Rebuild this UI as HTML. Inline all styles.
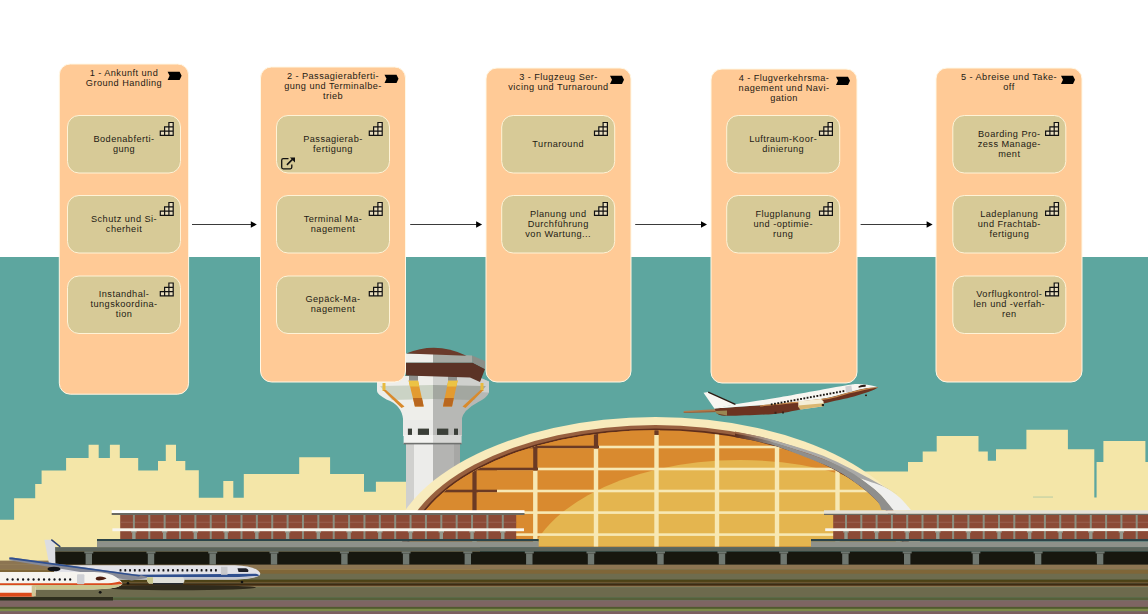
<!DOCTYPE html>
<html><head><meta charset="utf-8"><style>
html,body{margin:0;padding:0;background:#fff;width:1148px;height:614px;overflow:hidden}
svg{display:block}
.t{font-family:"Liberation Sans",sans-serif;font-size:9.2px;letter-spacing:0.45px;fill:#1e1a14;text-anchor:middle}
</style></head><body>
<svg width="1148" height="614" viewBox="0 0 1148 614">
<rect x="0" y="257" width="1148" height="357" fill="#5da69f"/>
<polygon points="0,519.7 14.1,519.7 14.1,498.2 35.2,498.2 35.2,484.1 41.6,484.1 41.6,470.4 66.1,470.4 66.1,458.1 88.6,458.1 88.6,444.8 98.7,444.8 98.7,458.1 109.9,458.1 109.9,444.8 119.8,444.8 119.8,458.1 138.2,458.1 138.2,470.4 158,470.4 158,461 165.8,461 165.8,444.8 176,444.8 176,461 185.3,461 185.3,470.3 198.8,470.3 198.8,497.8 223.3,497.8 223.3,481 233.3,481 233.3,497.8 243.8,497.8 243.8,474 299.2,474 299.2,457.2 330.1,457.2 330.1,474 364,474 364,491.7 375.9,491.7 375.9,481.7 480,481.7 480,570 0,570" fill="#f4e6a8" />
<polygon points="840,471.4 908,471.4 908,462 922.7,462 922.7,451.5 936.7,451.5 936.7,435.9 978.5,435.9 978.5,451.5 987.8,451.5 987.8,460.8 996,460.8 996,449.2 1026.4,449.2 1026.4,429.8 1067.9,429.8 1067.9,449.2 1094.3,449.2 1094.3,497.5 1096.6,497.5 1096.6,462 1103.4,462 1103.4,441 1145.4,441 1145.4,462 1148,462 1148,540 840,540" fill="#f4e6a8" />
<rect x="1033" y="496.6" width="20" height="0.9" fill="#5da69f" opacity="0.45"/>
<rect x="406" y="440" width="8" height="75" fill="#d0d0ce" />
<rect x="414" y="440" width="19" height="75" fill="#ececea" />
<rect x="433" y="440" width="21" height="75" fill="#b4b4b2" />
<rect x="454" y="440" width="6" height="75" fill="#a7a7a5" />
<rect x="403" y="418" width="30" height="18" fill="#eaeae8" />
<rect x="433" y="418" width="29" height="18" fill="#b9b9b7" />
<rect x="407.9" y="428.6" width="4.100000000000023" height="6.3" fill="#3b3f39" />
<rect x="417.9" y="428.6" width="11.100000000000023" height="6.3" fill="#3b3f39" />
<rect x="437" y="428.6" width="11.300000000000011" height="6.3" fill="#3b3f39" />
<rect x="454" y="428.6" width="4" height="6.3" fill="#3b3f39" />
<rect x="403.6" y="435" width="29.4" height="8.8" fill="#f3f3f1" />
<rect x="433" y="435" width="28.6" height="8.8" fill="#d6d6d4" />
<rect x="403.6" y="442.8" width="58" height="1.6" fill="#707270" />
<path d="M377 381.5 L390 376 L433 376 L433 420 L403.2 420 Q402 405 386.5 399.5 Q377 394 377 391 Z" fill="#eeeeea"/>
<path d="M433 376 L476 376 L489 381.5 L489 392.6 Q487 398 477.9 402.2 Q463 410 461.3 420 L433 420 Z" fill="#b7b8b5"/>
<path d="M433 376 L476 376 L489 381.5 L489 392.6 L433 390 Z" fill="#cfd0cd"/>
<polygon points="380,386 433,385 433,399 392,400" fill="#cbd3c5" />
<polygon points="433,385 486,386 474,400 433,399" fill="#a3a7a0" />
<polygon points="408.6,380.5 418,380.5 423.7,406.6 414.9,406.6" fill="#e39b30" />
<polygon points="408.6,380.5 418,380.5 419.3,386.5 409.9,386.5" fill="#ecc344" />
<polygon points="413,398 422,398 423.7,406.6 414.9,406.6" fill="#b9671f" />
<polygon points="448.3,380.5 457.7,380.5 452,406.6 443,406.6" fill="#e39b30" />
<polygon points="448.3,380.5 457.7,380.5 456.4,386.5 447,386.5" fill="#ecc344" />
<polygon points="444.7,398 453.8,398 452,406.6 443,406.6" fill="#b9671f" />
<rect x="382.5" y="383" width="3" height="8" fill="#e8bb40" />
<polygon points="383,390 386,390 404.5,406.5 401.5,408" fill="#d98a2c" />
<rect x="480.5" y="383" width="3" height="8" fill="#e8bb40" />
<polygon points="480.5,390 483.5,390 465.5,408 462.5,406.5" fill="#d98a2c" />
<rect x="409" y="375.5" width="9" height="5" fill="#8e908c" />
<rect x="448" y="375.5" width="9" height="5" fill="#8e908c" />
<polygon points="406,362.5 472.5,362.5 485,369 480,382 470,377.5 406,375.5" fill="#5b3326" />
<polygon points="406,353.5 433,353.5 433,362.5 406,362.5" fill="#efefeb" />
<polygon points="433,353.5 472,355.5 472.5,362.5 433,362.5" fill="#a6aaa4" />
<polygon points="472,355.5 485,361 485,369 472.5,362.5" fill="#8b8f89" />
<path d="M406.3 353.6 Q436 341 466.5 355.8 Z" fill="#6b3b2b"/>
<clipPath id="dclip"><rect x="380" y="400" width="560" height="146.5"/></clipPath>
<g clip-path="url(#dclip)">
<path d="M388.7 560 A266.8 143 0 0 1 922.3 560 Z" fill="#f8ebbc"/>
<path d="M399.7 560 A255.8 135 0 0 1 911.3 560 Z" fill="#98603f"/>
<path d="M405.0 560 A250.5 131.6 0 0 1 906.0 560 Z" fill="#5e2e1c"/>
<clipPath id="dint"><path d="M406.8 560 A248.7 129.8 0 0 1 904.2 560 Z"/></clipPath>
<g clip-path="url(#dint)">
<rect x="380" y="400" width="560" height="160" fill="#d98a2f" />
<ellipse cx="740" cy="580" rx="215" ry="120" fill="#e4b54f"/>
<rect x="472.3" y="400" width="4.4" height="160" fill="#f7e8b4" />
<rect x="533.0999999999999" y="400" width="4.4" height="160" fill="#f7e8b4" />
<rect x="593.8" y="400" width="4.4" height="160" fill="#f7e8b4" />
<rect x="654.3" y="400" width="4.4" height="160" fill="#f7e8b4" />
<rect x="714.8" y="400" width="4.4" height="160" fill="#f7e8b4" />
<rect x="774.8" y="400" width="4.4" height="160" fill="#f7e8b4" />
<rect x="835.3" y="400" width="4.4" height="160" fill="#f7e8b4" />
<rect x="895.8" y="400" width="4.4" height="160" fill="#f7e8b4" />
<rect x="380" y="445.7" width="560" height="2.6" fill="#f7e8b4" />
<rect x="380" y="467.7" width="560" height="2.6" fill="#f7e8b4" />
<rect x="380" y="489.7" width="560" height="2.6" fill="#f7e8b4" />
<rect x="380" y="511.3" width="560" height="2.6" fill="#f7e8b4" />
<rect x="380" y="533.3000000000001" width="560" height="2.6" fill="#f7e8b4" />
<clipPath id="dk"><polygon points="380,400 660,400 660,435 599,435 599,448.5 538,448.5 538,470.5 497,470.5 497,492.5 478,492.5 478,520 380,520"/></clipPath>
<g clip-path="url(#dk)">
<rect x="380" y="400" width="280" height="120" fill="#d98a2f" />
<rect x="472.4" y="400" width="4.2" height="160" fill="#6b3a24" />
<rect x="533.1999999999999" y="400" width="4.2" height="160" fill="#6b3a24" />
<rect x="593.9" y="400" width="4.2" height="160" fill="#6b3a24" />
<rect x="654.4" y="400" width="4.2" height="160" fill="#6b3a24" />
<rect x="380" y="445.7" width="280" height="2.6" fill="#6b3a24" />
<rect x="380" y="467.7" width="280" height="2.6" fill="#6b3a24" />
<rect x="380" y="489.7" width="280" height="2.6" fill="#6b3a24" />
</g>
</g>
<linearGradient id="gLG" x1="735" y1="0" x2="775" y2="0" gradientUnits="userSpaceOnUse"><stop offset="0" stop-color="#98603f"/><stop offset="1" stop-color="#a9a9a7"/></linearGradient>
<linearGradient id="gDG" x1="735" y1="0" x2="775" y2="0" gradientUnits="userSpaceOnUse"><stop offset="0" stop-color="#5e2e1c"/><stop offset="1" stop-color="#8f8f8d"/></linearGradient>
<path d="M735.00 431.40 C739.17 432.27 752.50 434.82 760.00 436.60 C767.50 438.38 772.50 439.93 780.00 442.10 C787.50 444.27 796.67 446.83 805.00 449.60 C813.33 452.37 820.50 454.55 830.00 458.70 C839.50 462.85 850.50 468.45 862.00 474.50 C873.50 480.55 892.83 491.58 899.00 495.00 L884.00 487.00 C880.10 485.58 869.60 482.67 860.60 478.50 C851.60 474.33 839.27 466.32 830.00 462.00 C820.73 457.68 813.33 455.47 805.00 452.60 C796.67 449.73 787.50 447.03 780.00 444.80 C772.50 442.57 767.50 441.03 760.00 439.20 C752.50 437.37 739.17 434.70 735.00 433.80 Z" fill="url(#gLG)"/>
<path d="M735.00 433.50 C739.17 434.38 752.50 436.97 760.00 438.80 C767.50 440.63 768.33 440.67 780.00 444.50 C791.67 448.33 816.57 456.13 830.00 461.80 C843.43 467.47 852.27 473.13 860.60 478.50 C868.93 483.87 874.43 488.75 880.00 494.00 C885.57 499.25 891.67 507.33 894.00 510.00 L881.50 510.00 C880.67 508.42 880.50 504.78 876.50 500.50 C872.50 496.22 865.25 489.83 857.50 484.30 C849.75 478.77 842.92 473.43 830.00 467.30 C817.08 461.17 791.67 451.72 780.00 447.50 C768.33 443.28 767.50 443.75 760.00 442.00 C752.50 440.25 739.17 437.83 735.00 437.00 Z" fill="url(#gDG)"/>
<path d="M860.60 478.50 C864.50 479.92 877.60 483.92 884.00 487.00 C890.40 490.08 894.50 493.17 899.00 497.00 C903.50 500.83 909.00 507.83 911.00 510.00 L893.50 510.00 C891.08 507.17 884.48 498.25 879.00 493.00 C873.52 487.75 863.67 480.92 860.60 478.50 Z" fill="#efefed"/>
</g>
<rect x="111.7" y="510.2" width="412.8" height="2.8" fill="#ffffff" />
<rect x="111.7" y="513" width="412.8" height="2" fill="#6a6a62" />
<rect x="120.2" y="515" width="396" height="24" fill="#8b4a36" />
<rect x="120.2" y="521.8" width="396" height="0.8" fill="#9c6655" />
<rect x="132.9" y="515" width="2" height="24" fill="#8c8f80" />
<rect x="131.20000000000002" y="531" width="5.4" height="1.6" fill="#9da396" />
<rect x="132.20000000000002" y="532.6" width="3.4" height="6.4" fill="#939a8e" />
<rect x="148.27" y="515" width="2" height="24" fill="#8c8f80" />
<rect x="163.64000000000001" y="515" width="2" height="24" fill="#8c8f80" />
<rect x="161.94000000000003" y="531" width="5.4" height="1.6" fill="#9da396" />
<rect x="162.94000000000003" y="532.6" width="3.4" height="6.4" fill="#939a8e" />
<rect x="179.01000000000002" y="515" width="2" height="24" fill="#8c8f80" />
<rect x="194.38000000000002" y="515" width="2" height="24" fill="#8c8f80" />
<rect x="192.68000000000004" y="531" width="5.4" height="1.6" fill="#9da396" />
<rect x="193.68000000000004" y="532.6" width="3.4" height="6.4" fill="#939a8e" />
<rect x="209.75000000000003" y="515" width="2" height="24" fill="#8c8f80" />
<rect x="225.12000000000003" y="515" width="2" height="24" fill="#8c8f80" />
<rect x="223.42000000000004" y="531" width="5.4" height="1.6" fill="#9da396" />
<rect x="224.42000000000004" y="532.6" width="3.4" height="6.4" fill="#939a8e" />
<rect x="240.49000000000004" y="515" width="2" height="24" fill="#8c8f80" />
<rect x="255.86" y="515" width="2" height="24" fill="#8c8f80" />
<rect x="254.16000000000003" y="531" width="5.4" height="1.6" fill="#9da396" />
<rect x="255.16000000000003" y="532.6" width="3.4" height="6.4" fill="#939a8e" />
<rect x="271.23" y="515" width="2" height="24" fill="#8c8f80" />
<rect x="286.6" y="515" width="2" height="24" fill="#8c8f80" />
<rect x="284.90000000000003" y="531" width="5.4" height="1.6" fill="#9da396" />
<rect x="285.90000000000003" y="532.6" width="3.4" height="6.4" fill="#939a8e" />
<rect x="301.97" y="515" width="2" height="24" fill="#8c8f80" />
<rect x="317.34000000000003" y="515" width="2" height="24" fill="#8c8f80" />
<rect x="315.64000000000004" y="531" width="5.4" height="1.6" fill="#9da396" />
<rect x="316.64000000000004" y="532.6" width="3.4" height="6.4" fill="#939a8e" />
<rect x="332.71000000000004" y="515" width="2" height="24" fill="#8c8f80" />
<rect x="348.08000000000004" y="515" width="2" height="24" fill="#8c8f80" />
<rect x="346.38000000000005" y="531" width="5.4" height="1.6" fill="#9da396" />
<rect x="347.38000000000005" y="532.6" width="3.4" height="6.4" fill="#939a8e" />
<rect x="363.45000000000005" y="515" width="2" height="24" fill="#8c8f80" />
<rect x="378.82000000000005" y="515" width="2" height="24" fill="#8c8f80" />
<rect x="377.12000000000006" y="531" width="5.4" height="1.6" fill="#9da396" />
<rect x="378.12000000000006" y="532.6" width="3.4" height="6.4" fill="#939a8e" />
<rect x="394.19000000000005" y="515" width="2" height="24" fill="#8c8f80" />
<rect x="409.56000000000006" y="515" width="2" height="24" fill="#8c8f80" />
<rect x="407.86000000000007" y="531" width="5.4" height="1.6" fill="#9da396" />
<rect x="408.86000000000007" y="532.6" width="3.4" height="6.4" fill="#939a8e" />
<rect x="424.93000000000006" y="515" width="2" height="24" fill="#8c8f80" />
<rect x="440.30000000000007" y="515" width="2" height="24" fill="#8c8f80" />
<rect x="438.6000000000001" y="531" width="5.4" height="1.6" fill="#9da396" />
<rect x="439.6000000000001" y="532.6" width="3.4" height="6.4" fill="#939a8e" />
<rect x="455.6700000000001" y="515" width="2" height="24" fill="#8c8f80" />
<rect x="471.0400000000001" y="515" width="2" height="24" fill="#8c8f80" />
<rect x="469.3400000000001" y="531" width="5.4" height="1.6" fill="#9da396" />
<rect x="470.3400000000001" y="532.6" width="3.4" height="6.4" fill="#939a8e" />
<rect x="486.4100000000001" y="515" width="2" height="24" fill="#8c8f80" />
<rect x="501.7800000000001" y="515" width="2" height="24" fill="#8c8f80" />
<rect x="500.0800000000001" y="531" width="5.4" height="1.6" fill="#9da396" />
<rect x="501.0800000000001" y="532.6" width="3.4" height="6.4" fill="#939a8e" />
<rect x="112.4" y="528.3" width="411.6" height="2.9" fill="#f8f6ee" />
<rect x="97" y="539" width="441.7" height="2.5" fill="#2c4448" />
<rect x="97" y="541.5" width="441.7" height="5.6" fill="#8e918a" />
<rect x="824" y="510.3" width="324" height="3.5" fill="#e4e2da" />
<rect x="824" y="513.8" width="324" height="1.2" fill="#6a6a62" />
<rect x="833.2" y="515" width="315" height="24" fill="#8b4a36" />
<rect x="833.2" y="521.8" width="315" height="0.8" fill="#9c6655" />
<rect x="845" y="515" width="2" height="24" fill="#8c8f80" />
<rect x="843.3" y="531" width="5.4" height="1.6" fill="#9da396" />
<rect x="844.3" y="532.6" width="3.4" height="6.4" fill="#939a8e" />
<rect x="860.3" y="515" width="2" height="24" fill="#8c8f80" />
<rect x="875.5999999999999" y="515" width="2" height="24" fill="#8c8f80" />
<rect x="873.8999999999999" y="531" width="5.4" height="1.6" fill="#9da396" />
<rect x="874.8999999999999" y="532.6" width="3.4" height="6.4" fill="#939a8e" />
<rect x="890.8999999999999" y="515" width="2" height="24" fill="#8c8f80" />
<rect x="906.1999999999998" y="515" width="2" height="24" fill="#8c8f80" />
<rect x="904.4999999999998" y="531" width="5.4" height="1.6" fill="#9da396" />
<rect x="905.4999999999998" y="532.6" width="3.4" height="6.4" fill="#939a8e" />
<rect x="921.4999999999998" y="515" width="2" height="24" fill="#8c8f80" />
<rect x="936.7999999999997" y="515" width="2" height="24" fill="#8c8f80" />
<rect x="935.0999999999997" y="531" width="5.4" height="1.6" fill="#9da396" />
<rect x="936.0999999999997" y="532.6" width="3.4" height="6.4" fill="#939a8e" />
<rect x="952.0999999999997" y="515" width="2" height="24" fill="#8c8f80" />
<rect x="967.3999999999996" y="515" width="2" height="24" fill="#8c8f80" />
<rect x="965.6999999999996" y="531" width="5.4" height="1.6" fill="#9da396" />
<rect x="966.6999999999996" y="532.6" width="3.4" height="6.4" fill="#939a8e" />
<rect x="982.6999999999996" y="515" width="2" height="24" fill="#8c8f80" />
<rect x="997.9999999999995" y="515" width="2" height="24" fill="#8c8f80" />
<rect x="996.2999999999995" y="531" width="5.4" height="1.6" fill="#9da396" />
<rect x="997.2999999999995" y="532.6" width="3.4" height="6.4" fill="#939a8e" />
<rect x="1013.2999999999995" y="515" width="2" height="24" fill="#8c8f80" />
<rect x="1028.5999999999995" y="515" width="2" height="24" fill="#8c8f80" />
<rect x="1026.8999999999994" y="531" width="5.4" height="1.6" fill="#9da396" />
<rect x="1027.8999999999994" y="532.6" width="3.4" height="6.4" fill="#939a8e" />
<rect x="1043.8999999999994" y="515" width="2" height="24" fill="#8c8f80" />
<rect x="1059.1999999999994" y="515" width="2" height="24" fill="#8c8f80" />
<rect x="1057.4999999999993" y="531" width="5.4" height="1.6" fill="#9da396" />
<rect x="1058.4999999999993" y="532.6" width="3.4" height="6.4" fill="#939a8e" />
<rect x="1074.4999999999993" y="515" width="2" height="24" fill="#8c8f80" />
<rect x="1089.7999999999993" y="515" width="2" height="24" fill="#8c8f80" />
<rect x="1088.0999999999992" y="531" width="5.4" height="1.6" fill="#9da396" />
<rect x="1089.0999999999992" y="532.6" width="3.4" height="6.4" fill="#939a8e" />
<rect x="1105.0999999999992" y="515" width="2" height="24" fill="#8c8f80" />
<rect x="1120.3999999999992" y="515" width="2" height="24" fill="#8c8f80" />
<rect x="1118.6999999999991" y="531" width="5.4" height="1.6" fill="#9da396" />
<rect x="1119.6999999999991" y="532.6" width="3.4" height="6.4" fill="#939a8e" />
<rect x="1135.6999999999991" y="515" width="2" height="24" fill="#8c8f80" />
<rect x="825.2" y="528.3" width="322.8" height="2.8" fill="#f8f6ee" />
<rect x="811" y="539" width="337" height="2.5" fill="#2c4448" />
<rect x="811" y="541.5" width="337" height="5.6" fill="#8e918a" />
<rect x="0" y="560.6" width="1148" height="4.3" fill="#8c7552" />
<rect x="0" y="564.6" width="1148" height="5.099999999999954" fill="#8c7552" />
<rect x="0" y="569.4" width="1148" height="4.600000000000068" fill="#7f6638" />
<rect x="0" y="573.7" width="1148" height="6.099999999999954" fill="#6e6c4e" />
<rect x="0" y="579.5" width="1148" height="2.699999999999977" fill="#4c4216" />
<rect x="0" y="581.9" width="1148" height="1.6999999999999773" fill="#6a5530" />
<rect x="0" y="583.3" width="1148" height="2.7000000000000908" fill="#3f2a10" />
<rect x="0" y="585.7" width="1148" height="1.8" fill="#8a7550" />
<rect x="0" y="587.2" width="1148" height="10.39999999999991" fill="#6d6a4d" />
<rect x="0" y="597.3" width="1148" height="3.2000000000000908" fill="#56603a" />
<rect x="0" y="600.2" width="1148" height="6.999999999999932" fill="#7e6563" />
<rect x="0" y="606.9" width="1148" height="2.199999999999977" fill="#505a2e" />
<rect x="0" y="608.8" width="1148" height="2.7000000000000908" fill="#7e8c4a" />
<rect x="0" y="611.2" width="1148" height="3.0999999999999543" fill="#7c6060" />
<rect x="54.3" y="547.1" width="1093.7" height="4.3" fill="#5b635b" />
<rect x="54.3" y="551.4" width="1093.7" height="13.2" fill="#17170f" />
<rect x="84.3" y="551.4" width="9" height="2" fill="#6f7770" />
<rect x="85.6" y="553.4" width="6.4" height="11.2" fill="#6f7770" />
<rect x="146.5" y="551.4" width="9" height="2" fill="#6f7770" />
<rect x="147.8" y="553.4" width="6.4" height="11.2" fill="#6f7770" />
<rect x="208.2" y="551.4" width="9" height="2" fill="#6f7770" />
<rect x="209.5" y="553.4" width="6.4" height="11.2" fill="#6f7770" />
<rect x="269.5" y="551.4" width="9" height="2" fill="#6f7770" />
<rect x="270.8" y="553.4" width="6.4" height="11.2" fill="#6f7770" />
<rect x="339.9" y="551.4" width="9" height="2" fill="#6f7770" />
<rect x="341.2" y="553.4" width="6.4" height="11.2" fill="#6f7770" />
<rect x="401.6" y="551.4" width="9" height="2" fill="#6f7770" />
<rect x="402.90000000000003" y="553.4" width="6.4" height="11.2" fill="#6f7770" />
<rect x="463.3" y="551.4" width="9" height="2" fill="#6f7770" />
<rect x="464.6" y="553.4" width="6.4" height="11.2" fill="#6f7770" />
<rect x="524.8" y="551.4" width="9" height="2" fill="#6f7770" />
<rect x="526.0999999999999" y="553.4" width="6.4" height="11.2" fill="#6f7770" />
<rect x="586.5" y="551.4" width="9" height="2" fill="#6f7770" />
<rect x="587.8" y="553.4" width="6.4" height="11.2" fill="#6f7770" />
<rect x="656.0" y="551.4" width="9" height="2" fill="#6f7770" />
<rect x="657.3" y="553.4" width="6.4" height="11.2" fill="#6f7770" />
<rect x="717.5" y="551.4" width="9" height="2" fill="#6f7770" />
<rect x="718.8" y="553.4" width="6.4" height="11.2" fill="#6f7770" />
<rect x="779.2" y="551.4" width="9" height="2" fill="#6f7770" />
<rect x="780.5" y="553.4" width="6.4" height="11.2" fill="#6f7770" />
<rect x="840.9" y="551.4" width="9" height="2" fill="#6f7770" />
<rect x="842.1999999999999" y="553.4" width="6.4" height="11.2" fill="#6f7770" />
<rect x="902.7" y="551.4" width="9" height="2" fill="#6f7770" />
<rect x="904.0" y="553.4" width="6.4" height="11.2" fill="#6f7770" />
<rect x="971.4" y="551.4" width="9" height="2" fill="#6f7770" />
<rect x="972.6999999999999" y="553.4" width="6.4" height="11.2" fill="#6f7770" />
<rect x="1033.6" y="551.4" width="9" height="2" fill="#6f7770" />
<rect x="1034.8999999999999" y="553.4" width="6.4" height="11.2" fill="#6f7770" />
<rect x="1095.6" y="551.4" width="9" height="2" fill="#6f7770" />
<rect x="1096.8999999999999" y="553.4" width="6.4" height="11.2" fill="#6f7770" />
<polygon points="683.7,411.1 774,405.9 800,403.8 800,409 753,411.3 683.7,412.8" fill="#b27a4c" />
<polygon points="683.7,412.2 753,410 800,407 800,409 753,411.3 683.7,412.8" fill="#8e5430" />
<path d="M714.50 408.50 C725.42 407.70 761.82 405.37 780.00 403.70 C798.18 402.03 811.98 400.45 823.60 398.50 C835.22 396.55 842.47 393.73 849.70 392.00 C856.93 390.27 862.28 388.90 867.00 388.10 C871.72 387.30 876.17 387.35 878.00 387.20 L878.00 387.40 C876.92 387.97 875.50 389.30 871.50 390.80 C867.50 392.30 861.98 394.30 854.00 396.40 C846.02 398.50 832.60 401.20 823.60 403.40 C814.60 405.60 808.27 407.85 800.00 409.60 C791.73 411.35 786.17 412.87 774.00 413.90 C761.83 414.93 736.57 415.92 727.00 415.80 C717.43 415.68 718.33 413.63 716.60 413.20 Z" fill="#6c3320"/>
<path d="M714.50 408.50 C717.98 407.80 724.48 406.18 735.40 404.30 C746.32 402.42 761.68 400.33 780.00 397.20 C798.32 394.07 832.23 387.68 845.30 385.50 C858.37 383.32 854.03 384.10 858.40 384.10 C862.77 384.10 868.23 384.98 871.50 385.50 C874.77 386.02 876.92 386.92 878.00 387.20 L878.00 387.20 C876.17 387.35 871.72 387.30 867.00 388.10 C862.28 388.90 856.93 390.27 849.70 392.00 C842.47 393.73 835.22 396.55 823.60 398.50 C811.98 400.45 798.18 402.03 780.00 403.70 C761.82 405.37 725.42 407.70 714.50 408.50 Z" fill="#f8f6f1"/>
<path d="M760.00 405.40 C770.60 404.27 808.65 400.82 823.60 398.60 C838.55 396.38 842.47 393.83 849.70 392.10 C856.93 390.37 862.28 389.02 867.00 388.20 C871.72 387.38 876.17 387.37 878.00 387.20 L878.00 387.60 C876.17 387.90 871.72 388.45 867.00 389.40 C862.28 390.35 856.93 391.57 849.70 393.30 C842.47 395.03 838.55 397.58 823.60 399.80 C808.65 402.02 770.60 405.47 760.00 406.60 Z" fill="#c88a4e"/>
<polygon points="715,411 727,410.5 727,415.6 716.6,413.4" fill="#9a8652" />
<polygon points="703.5,392.8 708.2,392.1 735.4,404.3 714.5,408.7" fill="#f8f6f1" />
<line x1="708.2" y1="392.1" x2="735.4" y2="404.3" stroke="#2a1810" stroke-width="1.3"/>
<rect x="770.80" y="403.40" width="1.8" height="1.9" fill="#1a1410"/>
<rect x="774.06" y="402.80" width="1.8" height="1.9" fill="#1a1410"/>
<rect x="777.32" y="402.20" width="1.8" height="1.9" fill="#1a1410"/>
<rect x="780.58" y="401.60" width="1.8" height="1.9" fill="#1a1410"/>
<rect x="783.84" y="401.00" width="1.8" height="1.9" fill="#1a1410"/>
<rect x="787.10" y="400.40" width="1.8" height="1.9" fill="#1a1410"/>
<rect x="790.35" y="399.80" width="1.8" height="1.9" fill="#1a1410"/>
<rect x="793.61" y="399.20" width="1.8" height="1.9" fill="#1a1410"/>
<rect x="796.87" y="398.60" width="1.8" height="1.9" fill="#1a1410"/>
<rect x="800.13" y="398.00" width="1.8" height="1.9" fill="#1a1410"/>
<rect x="803.39" y="397.40" width="1.8" height="1.9" fill="#1a1410"/>
<rect x="806.65" y="396.80" width="1.8" height="1.9" fill="#1a1410"/>
<rect x="809.91" y="396.20" width="1.8" height="1.9" fill="#1a1410"/>
<rect x="813.17" y="395.60" width="1.8" height="1.9" fill="#1a1410"/>
<rect x="816.43" y="395.00" width="1.8" height="1.9" fill="#1a1410"/>
<rect x="819.69" y="394.40" width="1.8" height="1.9" fill="#1a1410"/>
<rect x="822.95" y="393.80" width="1.8" height="1.9" fill="#1a1410"/>
<rect x="826.20" y="393.20" width="1.8" height="1.9" fill="#1a1410"/>
<rect x="829.46" y="392.60" width="1.8" height="1.9" fill="#1a1410"/>
<rect x="832.72" y="392.00" width="1.8" height="1.9" fill="#1a1410"/>
<rect x="835.98" y="391.40" width="1.8" height="1.9" fill="#1a1410"/>
<rect x="839.24" y="390.80" width="1.8" height="1.9" fill="#1a1410"/>
<rect x="842.50" y="390.20" width="1.8" height="1.9" fill="#1a1410"/>
<polygon points="845.3,386.4 851.3,385.6 852.3,391.6 846,392.4" fill="#d0d0d2" />
<path d="M858.4 386.4 Q861 384.2 865.8 384.8 L865.6 386.8 Q862 386.8 858.8 387.8 Z" fill="#2a1a14"/>
<polygon points="798.3,401.2 821,398.9 823.6,401.6 823.6,406.2 800.5,409.4 798.3,406.2" fill="#f5eed6" />
<polygon points="798.3,405.5 823.6,403.2 823.6,406.2 800.5,409.4 798.3,407" fill="#d9b772" />
<rect x="821.8" y="404" width="2.2" height="2.2" fill="#2a2418"/>
<rect x="774.5" y="411.8" width="2" height="2" fill="#3a2418"/><rect x="782" y="411.5" width="2" height="2" fill="#3a2418"/><rect x="865" y="394.6" width="2" height="1.5" fill="#3a2418"/>
<ellipse cx="178" cy="587.6" rx="78" ry="2.6" fill="#2f2a1c"/>
<path d="M54 565.3 L235 565.3 Q252 566 258 570.5 Q262 573.5 259 575.8 Q252 579 235 579.4 L101 579.4 L54 573.5 Z" fill="#e2e2e8"/>
<path d="M70 575.2 L256 573.8 Q260 574.6 258.5 575.9 L235 577.2 L101 577.3 Z" fill="#2f4f8f"/>
<path d="M101 577.3 L235 577.2 Q250 577 258.5 575.9 Q252 579 235 579.4 L101 579.4 Z" fill="#c4c6ce"/>
<polygon points="44.4,539.8 51.5,539.8 55,543 55.5,566 49.5,566" fill="#dcdde2" />
<line x1="51.3" y1="539.6" x2="60.3" y2="546.9" stroke="#2b3f70" stroke-width="1.4"/>
<rect x="119.55" y="569.1" width="1.9" height="2.4" rx="0.6" fill="#15151a"/>
<rect x="124.32" y="569.1" width="1.9" height="2.4" rx="0.6" fill="#15151a"/>
<rect x="129.09" y="569.1" width="1.9" height="2.4" rx="0.6" fill="#15151a"/>
<rect x="133.86" y="569.1" width="1.9" height="2.4" rx="0.6" fill="#15151a"/>
<rect x="138.63" y="569.1" width="1.9" height="2.4" rx="0.6" fill="#15151a"/>
<rect x="143.40" y="569.1" width="1.9" height="2.4" rx="0.6" fill="#15151a"/>
<rect x="148.17" y="569.1" width="1.9" height="2.4" rx="0.6" fill="#15151a"/>
<rect x="152.94" y="569.1" width="1.9" height="2.4" rx="0.6" fill="#15151a"/>
<rect x="157.71" y="569.1" width="1.9" height="2.4" rx="0.6" fill="#15151a"/>
<rect x="162.48" y="569.1" width="1.9" height="2.4" rx="0.6" fill="#15151a"/>
<rect x="167.25" y="569.1" width="1.9" height="2.4" rx="0.6" fill="#15151a"/>
<rect x="172.02" y="569.1" width="1.9" height="2.4" rx="0.6" fill="#15151a"/>
<rect x="176.79" y="569.1" width="1.9" height="2.4" rx="0.6" fill="#15151a"/>
<rect x="181.56" y="569.1" width="1.9" height="2.4" rx="0.6" fill="#15151a"/>
<rect x="186.33" y="569.1" width="1.9" height="2.4" rx="0.6" fill="#15151a"/>
<rect x="191.10" y="569.1" width="1.9" height="2.4" rx="0.6" fill="#15151a"/>
<rect x="195.87" y="569.1" width="1.9" height="2.4" rx="0.6" fill="#15151a"/>
<rect x="200.64" y="569.1" width="1.9" height="2.4" rx="0.6" fill="#15151a"/>
<rect x="205.41" y="569.1" width="1.9" height="2.4" rx="0.6" fill="#15151a"/>
<rect x="210.18" y="569.1" width="1.9" height="2.4" rx="0.6" fill="#15151a"/>
<rect x="214.95" y="569.1" width="1.9" height="2.4" rx="0.6" fill="#15151a"/>
<rect x="221" y="566.8" width="6.5" height="8" fill="#c8c8cc"/>
<path d="M237.5 568.3 L246 568.3 Q249.5 570 248 571.9 L238.5 571.9 Z" fill="#1f2028"/>
<polygon points="9.4,557.6 12,557.4 141,575.2 150,577.5 131.7,580.6 9.4,560.2" fill="#878a96" />
<polygon points="9.4,557.6 12,557.4 141,575.2 139,576.6 9.4,559" fill="#2f4f8f" />
<path d="M147 577.3 L183 577.3 Q186 580.5 183 583.6 L149 583.6 Q146 580.5 147 577.3 Z" fill="#dfdfd9"/>
<path d="M147 577.3 L153 577.3 L153 583.6 L149 583.6 Q146 580.5 147 577.3 Z" fill="#c9c78e"/>
<rect x="153" y="583" width="30" height="1.6" fill="#252a30"/>
<circle cx="128" cy="583.2" r="1.3" fill="#111"/><circle cx="242" cy="582" r="1.3" fill="#111"/>
<rect x="0" y="597" width="113" height="3.5" fill="#2e2e1e"/>
<path d="M0 571.9 L94 571.9 Q110 572.5 116 577 Q123 582 122.3 584.3 Q119 587.5 110 588.6 L94 589.4 L0 589.4 Z" fill="#f6f4ef"/>
<path d="M0 583.2 L108 583.2 Q116 582.6 119.5 581.4 Q122.3 582.6 122.3 584.3 Q117 585.2 108 585 L0 585 Z" fill="#d94a1c"/>
<path d="M0 585 L108 585 Q117 585.2 122.3 584.3 Q119 587.5 110 588.6 L94 589.4 L0 589.4 Z" fill="#c9c58e"/>
<ellipse cx="7.40" cy="579.5" rx="1.1" ry="1.25" fill="#15151a"/>
<ellipse cx="12.63" cy="579.5" rx="1.1" ry="1.25" fill="#15151a"/>
<ellipse cx="17.87" cy="579.5" rx="1.1" ry="1.25" fill="#15151a"/>
<ellipse cx="23.10" cy="579.5" rx="1.1" ry="1.25" fill="#15151a"/>
<ellipse cx="28.33" cy="579.5" rx="1.1" ry="1.25" fill="#15151a"/>
<ellipse cx="33.57" cy="579.5" rx="1.1" ry="1.25" fill="#15151a"/>
<ellipse cx="38.80" cy="579.5" rx="1.1" ry="1.25" fill="#15151a"/>
<ellipse cx="44.03" cy="579.5" rx="1.1" ry="1.25" fill="#15151a"/>
<ellipse cx="49.27" cy="579.5" rx="1.1" ry="1.25" fill="#15151a"/>
<ellipse cx="54.50" cy="579.5" rx="1.1" ry="1.25" fill="#15151a"/>
<ellipse cx="59.73" cy="579.5" rx="1.1" ry="1.25" fill="#15151a"/>
<ellipse cx="64.97" cy="579.5" rx="1.1" ry="1.25" fill="#15151a"/>
<ellipse cx="70.20" cy="579.5" rx="1.1" ry="1.25" fill="#15151a"/>
<rect x="77" y="574.2" width="7.4" height="10" rx="1" fill="#cfd0d4"/>
<path d="M95.7 578.4 Q96 576.4 100 576.4 Q105 576.6 106.5 578.6 Q104 580.4 99 580.4 Q95.7 580.2 95.7 578.4 Z" fill="#4e1e10"/>
<path d="M0 585.5 L32 585.5 L35.7 587 L35.7 595.5 L32 596.8 L0 596.8 Z" fill="#f6f4ef"/>
<path d="M0 592.8 L35.7 592.8 L35.7 595.5 L32 596.8 L0 596.8 Z" fill="#dc4a1a"/>
<rect x="31.7" y="585.5" width="4" height="10.8" fill="#cfc596"/>
<circle cx="100.2" cy="592.3" r="1.4" fill="#111"/>
<ellipse cx="54" cy="569" rx="6.5" ry="2.3" fill="#111318"/>
<line x1="192" y1="224.5" x2="251.8" y2="224.5" stroke="#3a3a3a" stroke-width="1"/>
<path d="M250.8 221.3 L256.8 224.5 L250.8 227.7 Z" fill="#000"/>
<line x1="410.2" y1="224.5" x2="477.1" y2="224.5" stroke="#3a3a3a" stroke-width="1"/>
<path d="M476.1 221.3 L482.1 224.5 L476.1 227.7 Z" fill="#000"/>
<line x1="635.2" y1="224.5" x2="702" y2="224.5" stroke="#3a3a3a" stroke-width="1"/>
<path d="M701 221.3 L707 224.5 L701 227.7 Z" fill="#000"/>
<line x1="860.6" y1="224.5" x2="927.6" y2="224.5" stroke="#3a3a3a" stroke-width="1"/>
<path d="M926.6 221.3 L932.6 224.5 L926.6 227.7 Z" fill="#000"/>
<rect x="59.3" y="64" width="129.3" height="330.2" rx="11" ry="11" fill="#ffca96" stroke="#fff8e6" stroke-width="1"/>
<text x="123.94999999999999" y="75.5" class="t">1 - Ankunft und</text>
<text x="123.94999999999999" y="85.5" class="t">Ground Handling</text>
<path d="M167.6 71.7 L179.6 71.7 L181.6 75.8 L179.6 79.9 L167.6 79.9 L169.6 75.8 Z" fill="#000"/>
<rect x="260.5" y="67" width="145.0" height="315" rx="11" ry="11" fill="#ffca96" stroke="#fff8e6" stroke-width="1"/>
<text x="333.0" y="78.5" class="t">2 - Passagierabferti-</text>
<text x="333.0" y="88.5" class="t">gung und Terminalbe-</text>
<text x="333.0" y="98.5" class="t">trieb</text>
<path d="M384.5 74.7 L396.5 74.7 L398.5 78.8 L396.5 82.9 L384.5 82.9 L386.5 78.8 Z" fill="#000"/>
<rect x="486" y="68" width="145" height="314" rx="11" ry="11" fill="#ffca96" stroke="#fff8e6" stroke-width="1"/>
<text x="558.5" y="79.5" class="t">3 - Flugzeug Ser-</text>
<text x="558.5" y="89.5" class="t">vicing und Turnaround</text>
<path d="M610 75.7 L622 75.7 L624 79.8 L622 83.9 L610 83.9 L612 79.8 Z" fill="#000"/>
<rect x="711" y="69" width="146" height="314" rx="11" ry="11" fill="#ffca96" stroke="#fff8e6" stroke-width="1"/>
<text x="784.0" y="80.5" class="t">4 - Flugverkehrsma-</text>
<text x="784.0" y="90.5" class="t">nagement und Navi-</text>
<text x="784.0" y="100.5" class="t">gation</text>
<path d="M836 76.7 L848 76.7 L850 80.8 L848 84.9 L836 84.9 L838 80.8 Z" fill="#000"/>
<rect x="936" y="68" width="146" height="314" rx="11" ry="11" fill="#ffca96" stroke="#fff8e6" stroke-width="1"/>
<text x="1009.0" y="79.5" class="t">5 - Abreise und Take-</text>
<text x="1009.0" y="89.5" class="t">off</text>
<path d="M1061 75.7 L1073 75.7 L1075 79.8 L1073 83.9 L1061 83.9 L1063 79.8 Z" fill="#000"/>
<rect x="67.5" y="115.5" width="113" height="57.5" rx="11.5" ry="11.5" fill="#d7ca97" stroke="#fff3d6" stroke-width="1"/>
<text x="124.0" y="141.95" class="t">Bodenabferti-</text>
<text x="124.0" y="151.95" class="t">gung</text>
<g transform="translate(160.3,122.5)"><path d="M8.6 0 H12.899999999999999 V12.899999999999999 H0 V8.6 H4.3 V4.3 H8.6 Z M0 8.6 H12.899999999999999 M4.3 4.3 H12.899999999999999 M4.3 8.6 V12.899999999999999 M8.6 4.3 V12.899999999999999" fill="#eadfbf" stroke="#111" stroke-width="1.2"/></g>
<rect x="67.5" y="195.5" width="113" height="57.5" rx="11.5" ry="11.5" fill="#d7ca97" stroke="#fff3d6" stroke-width="1"/>
<text x="124.0" y="221.95" class="t">Schutz und Si-</text>
<text x="124.0" y="231.95" class="t">cherheit</text>
<g transform="translate(160.3,202.5)"><path d="M8.6 0 H12.899999999999999 V12.899999999999999 H0 V8.6 H4.3 V4.3 H8.6 Z M0 8.6 H12.899999999999999 M4.3 4.3 H12.899999999999999 M4.3 8.6 V12.899999999999999 M8.6 4.3 V12.899999999999999" fill="#eadfbf" stroke="#111" stroke-width="1.2"/></g>
<rect x="67.5" y="276" width="113" height="57.5" rx="11.5" ry="11.5" fill="#d7ca97" stroke="#fff3d6" stroke-width="1"/>
<text x="124.0" y="297.45" class="t">Instandhal-</text>
<text x="124.0" y="307.45" class="t">tungskoordina-</text>
<text x="124.0" y="317.45" class="t">tion</text>
<g transform="translate(160.3,283)"><path d="M8.6 0 H12.899999999999999 V12.899999999999999 H0 V8.6 H4.3 V4.3 H8.6 Z M0 8.6 H12.899999999999999 M4.3 4.3 H12.899999999999999 M4.3 8.6 V12.899999999999999 M8.6 4.3 V12.899999999999999" fill="#eadfbf" stroke="#111" stroke-width="1.2"/></g>
<rect x="276.5" y="115.5" width="113" height="57.5" rx="11.5" ry="11.5" fill="#d7ca97" stroke="#fff3d6" stroke-width="1"/>
<text x="333.0" y="141.95" class="t">Passagierab-</text>
<text x="333.0" y="151.95" class="t">fertigung</text>
<g transform="translate(369.3,122.5)"><path d="M8.6 0 H12.899999999999999 V12.899999999999999 H0 V8.6 H4.3 V4.3 H8.6 Z M0 8.6 H12.899999999999999 M4.3 4.3 H12.899999999999999 M4.3 8.6 V12.899999999999999 M8.6 4.3 V12.899999999999999" fill="#eadfbf" stroke="#111" stroke-width="1.2"/></g>
<rect x="276.5" y="195.5" width="113" height="57.5" rx="11.5" ry="11.5" fill="#d7ca97" stroke="#fff3d6" stroke-width="1"/>
<text x="333.0" y="221.95" class="t">Terminal Ma-</text>
<text x="333.0" y="231.95" class="t">nagement</text>
<g transform="translate(369.3,202.5)"><path d="M8.6 0 H12.899999999999999 V12.899999999999999 H0 V8.6 H4.3 V4.3 H8.6 Z M0 8.6 H12.899999999999999 M4.3 4.3 H12.899999999999999 M4.3 8.6 V12.899999999999999 M8.6 4.3 V12.899999999999999" fill="#eadfbf" stroke="#111" stroke-width="1.2"/></g>
<rect x="276.5" y="276" width="113" height="57.5" rx="11.5" ry="11.5" fill="#d7ca97" stroke="#fff3d6" stroke-width="1"/>
<text x="333.0" y="302.45" class="t">Gepäck-Ma-</text>
<text x="333.0" y="312.45" class="t">nagement</text>
<g transform="translate(369.3,283)"><path d="M8.6 0 H12.899999999999999 V12.899999999999999 H0 V8.6 H4.3 V4.3 H8.6 Z M0 8.6 H12.899999999999999 M4.3 4.3 H12.899999999999999 M4.3 8.6 V12.899999999999999 M8.6 4.3 V12.899999999999999" fill="#eadfbf" stroke="#111" stroke-width="1.2"/></g>
<rect x="501.7" y="115.5" width="113" height="57.5" rx="11.5" ry="11.5" fill="#d7ca97" stroke="#fff3d6" stroke-width="1"/>
<text x="558.2" y="146.95" class="t">Turnaround</text>
<g transform="translate(594.5,122.5)"><path d="M8.6 0 H12.899999999999999 V12.899999999999999 H0 V8.6 H4.3 V4.3 H8.6 Z M0 8.6 H12.899999999999999 M4.3 4.3 H12.899999999999999 M4.3 8.6 V12.899999999999999 M8.6 4.3 V12.899999999999999" fill="#eadfbf" stroke="#111" stroke-width="1.2"/></g>
<rect x="501.7" y="195.5" width="113" height="57.5" rx="11.5" ry="11.5" fill="#d7ca97" stroke="#fff3d6" stroke-width="1"/>
<text x="558.2" y="216.95" class="t">Planung und</text>
<text x="558.2" y="226.95" class="t">Durchführung</text>
<text x="558.2" y="236.95" class="t">von Wartung...</text>
<g transform="translate(594.5,202.5)"><path d="M8.6 0 H12.899999999999999 V12.899999999999999 H0 V8.6 H4.3 V4.3 H8.6 Z M0 8.6 H12.899999999999999 M4.3 4.3 H12.899999999999999 M4.3 8.6 V12.899999999999999 M8.6 4.3 V12.899999999999999" fill="#eadfbf" stroke="#111" stroke-width="1.2"/></g>
<rect x="726.7" y="115.5" width="113" height="57.5" rx="11.5" ry="11.5" fill="#d7ca97" stroke="#fff3d6" stroke-width="1"/>
<text x="783.2" y="141.95" class="t">Luftraum-Koor-</text>
<text x="783.2" y="151.95" class="t">dinierung</text>
<g transform="translate(819.5,122.5)"><path d="M8.6 0 H12.899999999999999 V12.899999999999999 H0 V8.6 H4.3 V4.3 H8.6 Z M0 8.6 H12.899999999999999 M4.3 4.3 H12.899999999999999 M4.3 8.6 V12.899999999999999 M8.6 4.3 V12.899999999999999" fill="#eadfbf" stroke="#111" stroke-width="1.2"/></g>
<rect x="726.7" y="195.5" width="113" height="57.5" rx="11.5" ry="11.5" fill="#d7ca97" stroke="#fff3d6" stroke-width="1"/>
<text x="783.2" y="216.95" class="t">Flugplanung</text>
<text x="783.2" y="226.95" class="t">und -optimie-</text>
<text x="783.2" y="236.95" class="t">rung</text>
<g transform="translate(819.5,202.5)"><path d="M8.6 0 H12.899999999999999 V12.899999999999999 H0 V8.6 H4.3 V4.3 H8.6 Z M0 8.6 H12.899999999999999 M4.3 4.3 H12.899999999999999 M4.3 8.6 V12.899999999999999 M8.6 4.3 V12.899999999999999" fill="#eadfbf" stroke="#111" stroke-width="1.2"/></g>
<rect x="952.8" y="115.5" width="113" height="57.5" rx="11.5" ry="11.5" fill="#d7ca97" stroke="#fff3d6" stroke-width="1"/>
<text x="1009.3" y="136.95" class="t">Boarding Pro-</text>
<text x="1009.3" y="146.95" class="t">zess Manage-</text>
<text x="1009.3" y="156.95" class="t">ment</text>
<g transform="translate(1045.6,122.5)"><path d="M8.6 0 H12.899999999999999 V12.899999999999999 H0 V8.6 H4.3 V4.3 H8.6 Z M0 8.6 H12.899999999999999 M4.3 4.3 H12.899999999999999 M4.3 8.6 V12.899999999999999 M8.6 4.3 V12.899999999999999" fill="#eadfbf" stroke="#111" stroke-width="1.2"/></g>
<rect x="952.8" y="195.5" width="113" height="57.5" rx="11.5" ry="11.5" fill="#d7ca97" stroke="#fff3d6" stroke-width="1"/>
<text x="1009.3" y="216.95" class="t">Ladeplanung</text>
<text x="1009.3" y="226.95" class="t">und Frachtab-</text>
<text x="1009.3" y="236.95" class="t">fertigung</text>
<g transform="translate(1045.6,202.5)"><path d="M8.6 0 H12.899999999999999 V12.899999999999999 H0 V8.6 H4.3 V4.3 H8.6 Z M0 8.6 H12.899999999999999 M4.3 4.3 H12.899999999999999 M4.3 8.6 V12.899999999999999 M8.6 4.3 V12.899999999999999" fill="#eadfbf" stroke="#111" stroke-width="1.2"/></g>
<rect x="952.8" y="276" width="113" height="57.5" rx="11.5" ry="11.5" fill="#d7ca97" stroke="#fff3d6" stroke-width="1"/>
<text x="1009.3" y="297.45" class="t">Vorflugkontrol-</text>
<text x="1009.3" y="307.45" class="t">len und -verfah-</text>
<text x="1009.3" y="317.45" class="t">ren</text>
<g transform="translate(1045.6,283)"><path d="M8.6 0 H12.899999999999999 V12.899999999999999 H0 V8.6 H4.3 V4.3 H8.6 Z M0 8.6 H12.899999999999999 M4.3 4.3 H12.899999999999999 M4.3 8.6 V12.899999999999999 M8.6 4.3 V12.899999999999999" fill="#eadfbf" stroke="#111" stroke-width="1.2"/></g>
<path d="M288.5 158.7 H283.2 Q281.7 158.7 281.7 160.2 V167.29999999999998 Q281.7 168.79999999999998 283.2 168.79999999999998 H290.3 Q291.8 168.79999999999998 291.8 167.29999999999998 V164.5" fill="none" stroke="#111" stroke-width="1.3"/>
<path d="M286.9 164.89999999999998 L292.7 159.1" stroke="#111" stroke-width="1.5"/>
<path d="M289.9 157.39999999999998 L295.0 157.39999999999998 L295.0 162.5 Z" fill="#111"/>
</svg></body></html>
